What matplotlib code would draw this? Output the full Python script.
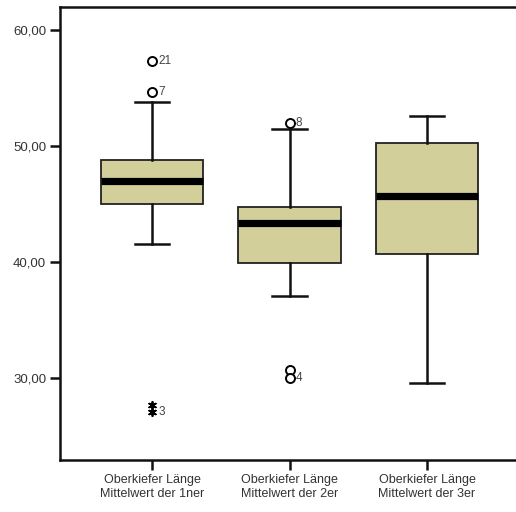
import matplotlib
matplotlib.use('Agg')
from matplotlib import pyplot as plt

# boxplot summaries per group
labels   = ['Oberkiefer Länge\nMittelwert der 1ner',
            'Oberkiefer Länge\nMittelwert der 2er',
            'Oberkiefer Länge\nMittelwert der 3er']
q1       = [45.00, 39.91, 40.69]
median   = [46.95, 43.36, 45.69]
q3       = [48.79, 44.74, 50.26]
whis_lo  = [41.55, 37.07, 29.57]
whis_hi  = [53.79, 51.47, 52.60]

# outliers (circles) and extremes (stars) with case numbers
out_group = [1, 1, 2, 2, 2]
out_value = [57.33, 54.66, 52.00, 30.70, 30.00]
out_label = ['21', '7', '8', '', '4']
ext_group = [1, 1]
ext_value = [27.67, 27.07]
ext_label = ['', '3']

yticks = [30, 40, 50, 60]

plt.rcParams['font.family'] = ['Liberation Sans', 'DejaVu Sans']

fig = plt.figure(figsize=(5.16, 5.12), dpi=100)
ax = fig.add_axes([60/516, 1 - 460/512, 1 - 60/516, 453/512])

stats = []
for i in range(len(labels)):
    stats.append({'med': median[i], 'q1': q1[i], 'q3': q3[i],
                  'whislo': whis_lo[i], 'whishi': whis_hi[i], 'fliers': []})

ax.bxp(stats, positions=[1, 2, 3], widths=0.745, patch_artist=True,
       showfliers=False,
       boxprops=dict(facecolor='#d3cf9b', edgecolor='#222222', linewidth=1.3),
       medianprops=dict(color='black', linewidth=5.2, solid_capstyle='butt'),
       whiskerprops=dict(color='#111111', linewidth=1.8),
       capprops=dict(color='#111111', linewidth=1.8),
       capwidths=0.25)

ax.scatter(out_group, out_value, s=42, facecolors='white', edgecolors='black',
           linewidths=1.4, zorder=5)
for g, v, t in zip(out_group, out_value, out_label):
    ax.text(g + 0.045, v, t, fontsize=8.5, color='#444444', va='center', ha='left')

ax.scatter(ext_group, ext_value, s=28, marker=(6, 2, 0), color='black',
           linewidths=1.3, zorder=5)
for g, v, t in zip(ext_group, ext_value, ext_label):
    ax.text(g + 0.045, v, t, fontsize=8.5, color='#444444', va='center', ha='left')

ax.set_xlim(0.331, 3.647)
ax.set_ylim(22.93, 61.98)
ax.set_yticks(yticks)
ax.set_yticklabels([f'{v:.2f}'.replace('.', ',') for v in yticks])
ax.set_xticks([1, 2, 3])
ax.set_xticklabels(labels)

for s in ['left', 'bottom', 'top']:
    ax.spines[s].set_linewidth(1.8)
    ax.spines[s].set_color('#111111')
ax.spines['right'].set_visible(False)

ax.tick_params(axis='both', direction='out', length=7, width=1.8,
               color='#111111', labelsize=9.5, labelcolor='#333333', pad=3)
ax.tick_params(axis='x', labelsize=9)

fig.savefig('out.png', dpi=100)
